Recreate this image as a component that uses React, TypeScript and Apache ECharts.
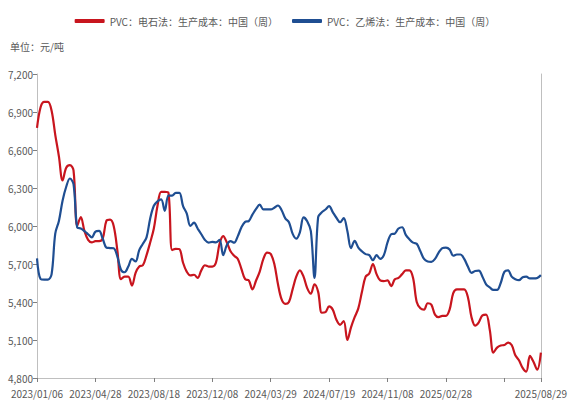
import React, { useEffect, useRef } from "react";
import * as echarts from "echarts";

const START_DATE = "2023-01-06";
const WEEK_COUNT = 139;

const seriesNames = ["PVC：电石法：生产成本：中国（周）", "PVC：乙烯法：生产成本：中国（周）"];

const calciumCarbide = [
  6775, 6940, 6980, 6980, 6910, 6720, 6550, 6360, 6460, 6480,
  6440, 6000, 6070, 5960, 5890, 5870, 5880, 5880, 5900, 6040,
  6050, 6000, 5810, 5580, 5600, 5600, 5530, 5630, 5680, 5690,
  5770, 5870, 5980, 6160, 6270, 6270, 6262, 5810, 5820, 5817,
  5710, 5640, 5610, 5615, 5590, 5650, 5690, 5680, 5680, 5710,
  5860, 5920, 5870, 5800, 5765, 5740, 5660, 5580, 5570, 5500,
  5570, 5640, 5740, 5790, 5780, 5700, 5540, 5420, 5385, 5400,
  5500, 5600, 5650, 5600, 5510, 5465, 5540, 5480, 5315, 5320,
  5365, 5340, 5260, 5220, 5250, 5100, 5200, 5280, 5350, 5480,
  5600, 5625, 5700, 5620, 5570, 5565, 5570, 5525, 5580, 5590,
  5620, 5650, 5650, 5590, 5400, 5350, 5340, 5390, 5380, 5300,
  5280, 5290, 5290, 5340, 5470, 5500, 5500, 5500, 5440, 5280,
  5214, 5240, 5295, 5300, 5180, 5000, 5040, 5057, 5060, 5080,
  5060, 4980, 4940, 4880, 4850, 4975, 4926, 4865, 5000,
];

const ethylene = [
  5745, 5580, 5576, 5576, 5620, 5940, 6040, 6200, 6310, 6375,
  6330, 5990, 5980, 5960, 5935, 5910, 5955, 5961, 5900, 5830,
  5826, 5824, 5760, 5655, 5635, 5680, 5740, 5720, 5810, 5860,
  5910, 6060, 6160, 6195, 6210, 6120, 6240, 6240, 6262, 6262,
  6157, 6100, 6000, 6026, 5980, 5935, 5890, 5869, 5875, 5870,
  5890, 5770, 5850, 5880, 5868, 5920, 5990, 6033, 6039, 6090,
  6135, 6168, 6131, 6131, 6131, 6144, 6162, 6125, 6060, 6030,
  5940, 5900, 5950, 6068, 6038, 5960, 5590, 6070, 6108, 6130,
  6157, 6110, 6065, 6030, 6062, 5960, 5825, 5882, 5830, 5800,
  5778, 5770, 5730, 5770, 5740, 5770, 5870, 5935, 5940, 5980,
  5990, 5930, 5895, 5869, 5860, 5800, 5740, 5720, 5717, 5740,
  5790, 5825, 5830, 5815, 5765, 5775, 5775, 5740, 5680, 5630,
  5645, 5648, 5600, 5540, 5515, 5495, 5495, 5550, 5638, 5650,
  5600, 5580, 5572, 5595, 5600, 5586, 5586, 5590, 5612,
];

const yMin = 4800;
const yMax = 7200;
const yStep = 300;

function buildDates(): string[] {
  const out: string[] = [];
  const base = new Date(START_DATE + "T00:00:00Z").getTime();
  for (let k = 0; k < WEEK_COUNT; k++) {
    const d = new Date(base + k * 7 * 86400000);
    const mm = String(d.getUTCMonth() + 1).padStart(2, "0");
    const dd = String(d.getUTCDate()).padStart(2, "0");
    out.push(`${d.getUTCFullYear()}/${mm}/${dd}`);
  }
  return out;
}

const dates = buildDates();

const RED = "#C8151E";
const BLUE = "#1F4E92";
const TEXT = "#595959";
const AXIS = "#BFBFBF";
const FONT = "'Noto Sans CJK SC', 'Noto Sans', sans-serif";

export default function App() {
  const ref = useRef<HTMLDivElement>(null);
  useEffect(() => {
    if (!ref.current) return;
    const chart = echarts.init(ref.current, undefined, { renderer: "svg" });
    const last = dates.length - 1;
    const showLabel = (idx: number) => (idx % 16 === 0 && idx <= 112) || idx === last;
    const showTick = (idx: number) => idx % 16 === 0 || idx === last;
    chart.setOption({
      animation: false,
      backgroundColor: "#ffffff",
      textStyle: { fontFamily: FONT },
      legend: {
        top: 11,
        left: "center",
        itemWidth: 30,
        itemHeight: 4,
        itemGap: 14,
        icon: "roundRect",
        textStyle: { color: TEXT, fontSize: 10, fontFamily: FONT },
        data: seriesNames,
      },
      graphic: [
        {
          type: "text",
          left: 10,
          top: 41,
          style: { text: "单位：元/吨", fill: TEXT, fontSize: 10, fontFamily: FONT },
        },
      ],
      grid: { left: 37, right: 21, top: 74, bottom: 23, containLabel: false },
      xAxis: {
        type: "category",
        data: dates,
        boundaryGap: false,
        axisLine: { lineStyle: { color: AXIS, width: 1 } },
        axisTick: { interval: (idx: number) => showTick(idx), length: 4, lineStyle: { color: "#7F7F7F" } },
        axisLabel: {
          interval: (idx: number) => showLabel(idx),
          color: TEXT,
          fontSize: 10,
          fontFamily: FONT,
          margin: 10,
          showMaxLabel: true,
        },
        splitLine: { show: false },
      },
      yAxis: [
        {
          type: "value",
          min: yMin,
          max: yMax,
          interval: yStep,
          axisLine: { show: true, lineStyle: { color: AXIS } },
          axisTick: { show: true, length: 4, lineStyle: { color: "#7F7F7F" } },
          axisLabel: {
            color: TEXT,
            fontSize: 10,
            fontFamily: FONT,
            margin: 4,
            formatter: (v: number) => v.toLocaleString("en-US"),
          },
          splitLine: { show: false },
        },
        {
          type: "value",
          min: yMin,
          max: yMax,
          interval: yStep,
          position: "right",
          axisLine: { show: true, lineStyle: { color: AXIS } },
          axisTick: { show: false },
          axisLabel: { show: false },
          splitLine: { show: false },
        },
      ],
      series: [
        {
          name: seriesNames[0],
          type: "line",
          data: calciumCarbide,
          smooth: 0.35,
          showSymbol: false,
          symbol: "none",
          lineStyle: { color: RED, width: 2.2 },
          itemStyle: { color: RED },
        },
        {
          name: seriesNames[1],
          type: "line",
          data: ethylene,
          smooth: 0.35,
          showSymbol: false,
          symbol: "none",
          lineStyle: { color: BLUE, width: 2.2 },
          itemStyle: { color: BLUE },
        },
      ],
    });
    return () => chart.dispose();
  }, []);
  return <div ref={ref} style={{ width: 570, height: 401, position: "absolute", left: 0, top: 0 }} />;
}
